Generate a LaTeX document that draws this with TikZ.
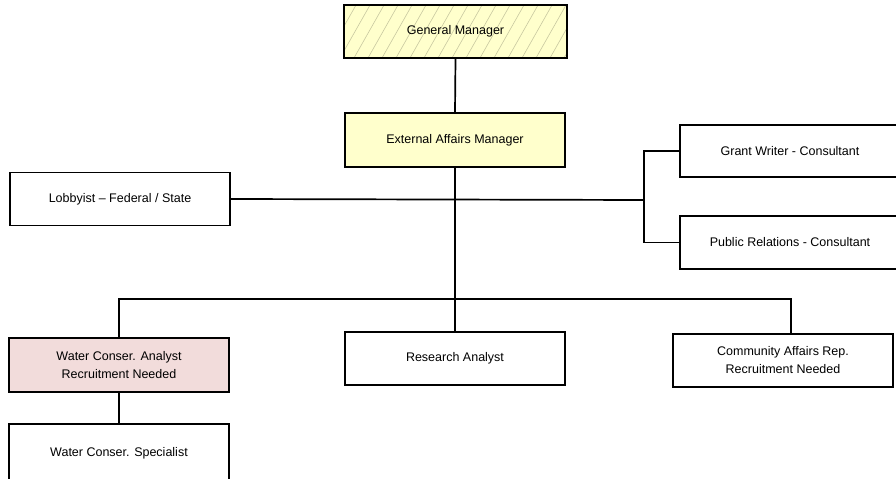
\documentclass[tikz,border=0pt]{standalone}
\usepackage{fontspec}
\setmainfont{Liberation Sans}
\begin{document}
\begin{tikzpicture}[x=1bp,y=-1bp,
  every node/.style={font=\fontsize{12.5bp}{18bp}\selectfont},
  box/.style={draw=black, line width=1.5bp, fill=white, minimum width=220bp,
    minimum height=53bp, inner sep=0pt, align=center},
  wire/.style={draw=black, line width=1.7bp},
  hatch/.style={draw=hatchc, line width=0.6bp}]
\definecolor{paleyellow}{RGB}{255,255,204}
\definecolor{hatchc}{RGB}{200,200,160}
\definecolor{palerose}{RGB}{242,220,219}
\useasboundingbox (0,0) rectangle (896,479);

% top of the chart
\node[box, minimum width=223bp, fill=paleyellow,
  path picture={
    \foreach \i in {-60,-46,...,260}
      \draw[hatch] ([xshift=\i bp]path picture bounding box.south west) -- ++(34bp,60bp);
  }] (gm) at (455.5,31.5) {General Manager};
\node[box, minimum height=54bp, fill=paleyellow] (eam) at (455,140) {External Affairs Manager};

% staff and consultants
\node[box] (lob) at (120,199) {Lobbyist -- Federal / State};
\node[box, minimum height=52bp] (gw) at (790,151) {Grant Writer - Consultant};
\node[box] (pr) at (790,242.5) {Public Relations - Consultant};

% reporting line
\node[box, minimum height=54bp, fill=palerose] (wa) at (119,365) {Water Conser. Analyst\\Recruitment Needed};
\node[box] (ra) at (455,358.5) {Research Analyst};
\node[box] (ca) at (783,360.5) {Community Affairs Rep.\\Recruitment Needed};
\node[box, minimum height=58bp] (ws) at (119,453) {Water Conser. Specialist};

\coordinate (br) at (644,200);
\coordinate (bus) at (455,299);

\draw[wire] (gm.south) -- (eam.north);
\draw[wire] (eam.south) -- (eam.south |- ra.north);
\draw[wire] (lob.east) -- (br);
\draw[wire] (gw.west) -| (br) |- (pr.west);
\draw[wire] (wa.north) |- (bus) -| ([xshift=8bp]ca.north);
\draw[wire] (wa.south) -- (ws.north);
\end{tikzpicture}
\end{document}
